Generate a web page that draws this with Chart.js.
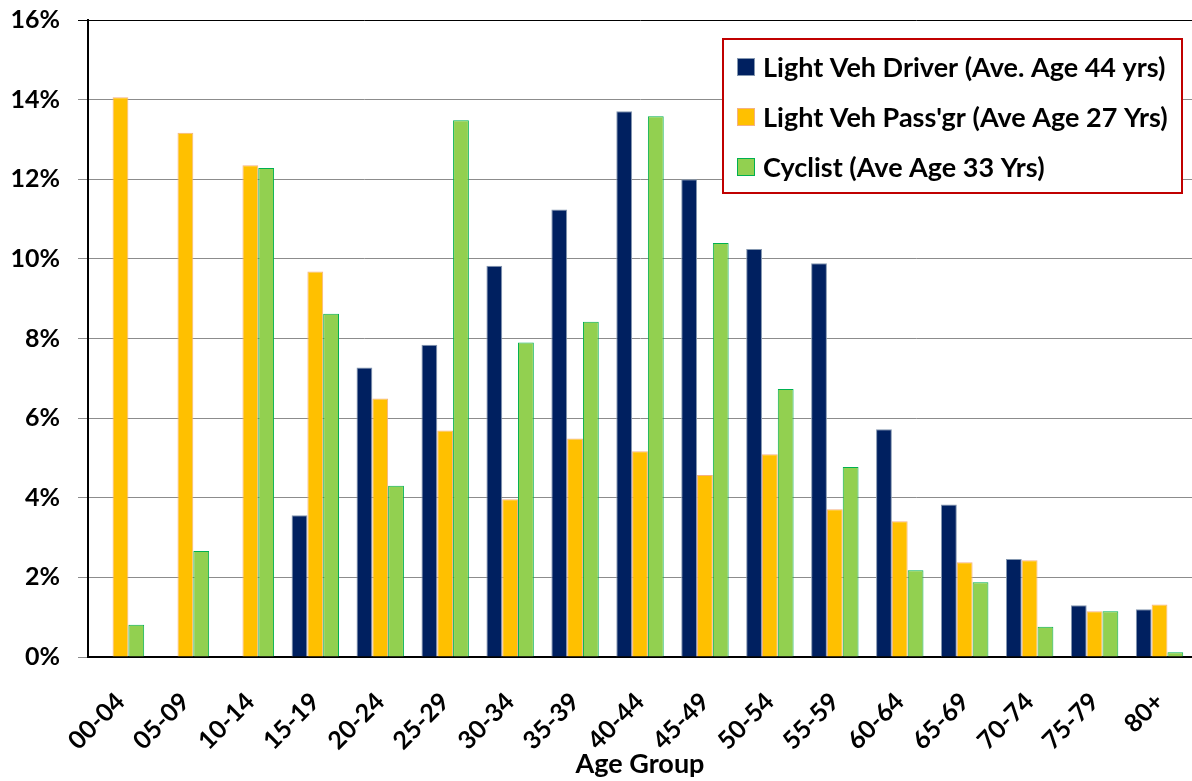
<!DOCTYPE html>
<html lang="en">
<head>
	<meta charset="utf-8">
	<script src="https://cdn.jsdelivr.net/npm/chart.js@4.4.1/dist/chart.umd.min.js"></script>
	<title>Age Group</title>
<style>
html, body { margin: 0; padding: 0; background: #fff; }
#wrap { width: 1192px; height: 781px; }
</style>
</head>
<body>
	<div id="wrap">
		<canvas id="myChart" width="1192" height="781"></canvas>
	</div>
<script>
const ageGroups = ['00-04', '05-09', '10-14', '15-19', '20-24', '25-29', '30-34', '35-39', '40-44',
  '45-49', '50-54', '55-59', '60-64', '65-69', '70-74', '75-79', '80+'];
const driverPct = [0, 0, 0, 3.56, 7.27, 7.84, 9.83, 11.24, 13.71, 12.0, 10.25, 9.89, 5.72, 3.83, 2.46, 1.30, 1.20];
const passPct = [14.06, 13.17, 12.35, 9.68, 6.49, 5.69, 3.96, 5.49, 5.17, 4.57, 5.09, 3.71, 3.41, 2.38, 2.43, 1.15, 1.32];
const cyclistPct = [0.81, 2.66, 12.28, 8.62, 4.30, 13.48, 7.90, 8.42, 13.58, 10.40, 6.73, 4.77, 2.18, 1.88, 0.76, 1.15, 0.12];
const seriesNames = ['Light Veh Driver (Ave. Age 44 yrs)', "Light Veh Pass'gr (Ave Age 27 Yrs)", 'Cyclist (Ave Age 33 Yrs)'];
const yTicks = [0, 2, 4, 6, 8, 10, 12, 14, 16];

const FONT = 'Lato, "Open Sans", sans-serif';

// legend in a red box, drawn over the plot like the original
const boxLegend = {
  id: 'boxLegend',
  afterDatasetsDraw(chart) {
    const c = chart.ctx;
    c.save();
    c.fillStyle = '#fff';
    c.fillRect(723, 39, 459, 154);
    c.strokeStyle = '#C00000';
    c.lineWidth = 2;
    c.strokeRect(723, 39, 459, 154);
    c.font = 'bold 27px ' + FONT;
    c.textBaseline = 'middle';
    chart.data.datasets.forEach((ds, i) => {
      const y = 67 + i * 50;
      c.fillStyle = ds.backgroundColor;
      c.fillRect(737, y - 9, 18, 18);
      c.strokeStyle = ds.borderColor;
      c.lineWidth = 1;
      c.strokeRect(737.5, y - 8.5, 17, 17);
      c.fillStyle = '#000';
      c.fillText(ds.label, 763, y + 1);
    });
    c.restore();
  }
};

const ctx = document.getElementById('myChart');
new Chart(ctx, {
  type: 'bar',
  data: {
    labels: ageGroups,
    datasets: [{
      label: seriesNames[0],
      data: driverPct,
      backgroundColor: '#002060',
      borderColor: '#8497B0',
      borderWidth: 1
    }, {
      label: seriesNames[1],
      data: passPct,
      backgroundColor: '#FFC000',
      borderColor: '#F4B183',
      borderWidth: 1
    }, {
      label: seriesNames[2],
      data: cyclistPct,
      backgroundColor: '#92D050',
      borderColor: '#00B050',
      borderWidth: 1
    }]
  },
  plugins: [boxLegend],
  options: {
    responsive: false,
    animation: false,
    layout: { padding: { top: 20, right: 0, left: 0, bottom: 0 } },
    datasets: {
      bar: { categoryPercentage: 0.73, barPercentage: 1.0 }
    },
    plugins: {
      legend: { display: false },
      tooltip: { enabled: false }
    },
    scales: {
      x: {
        grid: { display: false },
        border: { display: true, color: '#000', width: 2 },
        ticks: {
          color: '#000',
          font: { family: FONT, size: 25, weight: 'bold' },
          maxRotation: 45,
          minRotation: 45,
          padding: 22,
          autoSkip: false
        },
        title: {
          display: true,
          text: 'Age Group',
          color: '#000',
          font: { family: FONT, size: 27, weight: 'bold' },
          padding: { top: 0, bottom: 1 }
        },
        afterFit(scale) {
          scale.height = 124;
          scale.paddingLeft = 0;
          scale.paddingRight = 0;
        }
      },
      y: {
        min: 0,
        max: 16,
        afterBuildTicks(scale) { scale.ticks = yTicks.map(v => ({ value: v })); },
        grid: {
          color: c => (c.tick && c.tick.value === 16 ? '#000' : '#8C8C8C'),
          lineWidth: 1,
          tickLength: 10
        },
        border: { display: true, color: '#000', width: 2 },
        ticks: {
          color: '#000',
          font: { family: FONT, size: 25, weight: 'bold' },
          padding: 18,
          callback: v => v + '%'
        },
        afterFit(scale) {
          scale.width = 88;
          scale.paddingTop = 0;
          scale.paddingBottom = 0;
        }
      }
    }
  }
});
</script>
</body>
</html>
